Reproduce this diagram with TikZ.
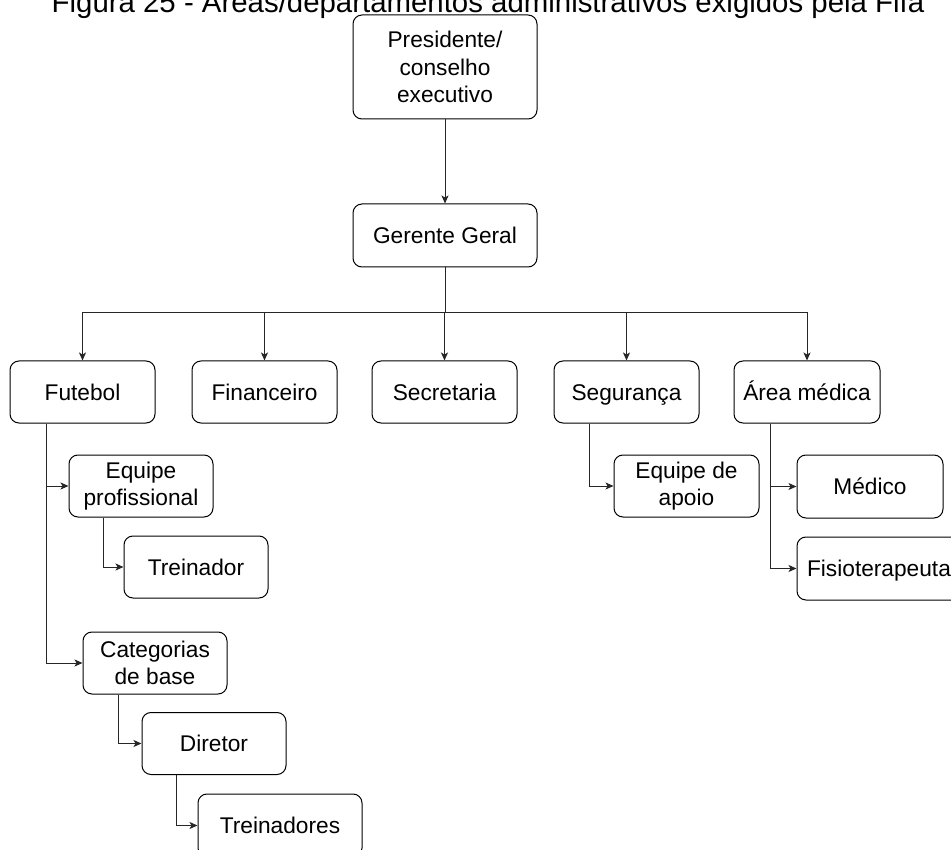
\documentclass[tikz,border=0pt]{standalone}
\usepackage{fontspec}
\setmainfont{Liberation Sans}
\usetikzlibrary{calc,arrows.meta}

\begin{document}
\begin{tikzpicture}[x=1pt,y=-1pt,
  box/.style={draw=black,line width=1pt,rounded corners=9pt,fill=white,
    align=center,inner sep=0pt,
    font=\fontsize{22.7}{27.5}\selectfont},
  oneline/.style={text height=18pt,text depth=2pt},
  conn/.style={draw=black!85,line width=1pt,
    -{Stealth[length=8pt,width=7pt,inset=2pt]}}]
  \useasboundingbox (0,0) rectangle (951,850);
  \clip (0,0) rectangle (951,850);

  % caption line, cut at the top edge
  \node[anchor=base,inner sep=0pt,font=\fontsize{29.4}{34}\selectfont]
    (title) at (488,13) {Figura 25 - Áreas/departamentos administrativos exigidos pela Fifa};

  % top of the hierarchy
  \node[box,minimum width=184pt,minimum height=104pt] (pres) at (445,67)
    {Presidente/\\conselho\\executivo};
  \node[box,oneline,minimum width=184pt,minimum height=63pt] (ger) at (445,235.5)
    {Gerente Geral};

  % departments
  \node[box,oneline,minimum width=145pt,minimum height=62pt] (fut) at (82.5,392) {Futebol};
  \node[box,oneline,minimum width=145pt,minimum height=62pt] (fin) at (264.5,392) {Financeiro};
  \node[box,oneline,minimum width=145pt,minimum height=62pt] (sec) at (444.5,392) {Secretaria};
  \node[box,oneline,minimum width=145pt,minimum height=62pt] (seg) at (626.5,392) {Segurança};
  \node[box,oneline,minimum width=146pt,minimum height=62pt] (med) at (807,392) {Área médica};

  % football branch
  \node[box,minimum width=144pt,minimum height=62pt] (eqp) at (141,486)
    {Equipe\\profissional};
  \node[box,oneline,minimum width=144pt,minimum height=62pt] (trn) at (196,567) {Treinador};
  \node[box,minimum width=144pt,minimum height=62pt] (cat) at (155,663)
    {Categorias\\de base};
  \node[box,oneline,minimum width=144pt,minimum height=62pt] (dir) at (214,743.5) {Diretor};
  \node[box,oneline,minimum width=164pt,minimum height=63pt] (trs) at (280,825.5) {Treinadores};

  % security and medical branches
  \node[box,minimum width=145pt,minimum height=62pt] (apo) at (686.5,486)
    {Equipe de\\apoio};
  \node[box,oneline,minimum width=146pt,minimum height=63pt] (medico) at (870,486.5) {Médico};
  \node[box,oneline,minimum width=164pt,minimum height=63pt] (fis) at (879,568.5) {Fisioterapeuta};

  % connectors
  \coordinate (bar) at (445,313);
  \draw[conn] (pres.south) -- (ger.north);
  \foreach \d in {fut,fin,sec,seg,med}
    \draw[conn] (ger.south) -- (ger.south |- bar) -| (\d.north);

  \draw[conn] ($(fut.south west)+(37,0)$) |- (eqp.west);
  \draw[conn] ($(fut.south west)+(37,0)$) |- (cat.west);
  \draw[conn] ($(eqp.south west)+(35,0)$) |- (trn.west);
  \draw[conn] ($(cat.south west)+(36,0)$) |- (dir.west);
  \draw[conn] ($(dir.south west)+(35,0)$) |- (trs.west);
  \draw[conn] ($(seg.south west)+(36,0)$) |- (apo.west);
  \draw[conn] ($(med.south west)+(37,0)$) |- (medico.west);
  \draw[conn] ($(med.south west)+(37,0)$) |- (fis.west);
\end{tikzpicture}
\end{document}
